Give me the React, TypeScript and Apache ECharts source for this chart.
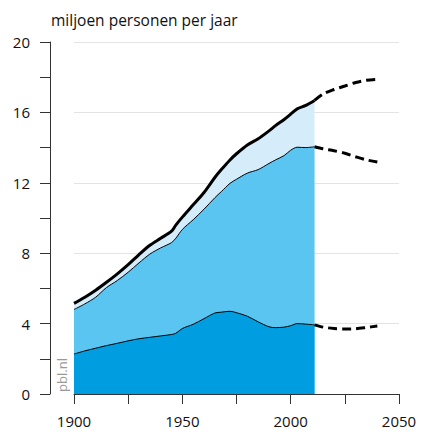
import React, { useEffect, useRef } from "react";
import * as echarts from "echarts";

const histYears = [1900, 1905, 1910, 1915, 1920, 1925, 1930, 1935, 1940, 1945, 1947, 1950, 1955, 1960, 1965, 1968, 1972, 1975, 1980, 1985, 1990, 1993, 1997, 2000, 2003, 2007, 2011];
const totalValues = [5.15, 5.5, 5.9, 6.35, 6.83, 7.35, 7.92, 8.45, 8.85, 9.25, 9.6, 10.05, 10.75, 11.45, 12.3, 12.75, 13.3, 13.65, 14.15, 14.5, 14.95, 15.25, 15.6, 15.9, 16.2, 16.4, 16.68];
const middleValues = [4.8, 5.12, 5.5, 6.05, 6.45, 6.92, 7.45, 7.95, 8.3, 8.6, 8.85, 9.35, 9.9, 10.5, 11.15, 11.5, 11.97, 12.2, 12.55, 12.75, 13.1, 13.3, 13.55, 13.85, 14.02, 14.0, 14.05];
const lowerValues = [2.27, 2.45, 2.6, 2.75, 2.88, 3.02, 3.14, 3.22, 3.3, 3.38, 3.45, 3.72, 3.96, 4.28, 4.6, 4.65, 4.7, 4.62, 4.42, 4.1, 3.82, 3.77, 3.8, 3.88, 4.0, 3.97, 3.93];

const projYears = [2011, 2015, 2020, 2025, 2030, 2035, 2040];
const projTotal = [16.68, 17.05, 17.3, 17.5, 17.7, 17.83, 17.88];
const projMiddle = [14.05, 13.93, 13.82, 13.68, 13.48, 13.3, 13.18];
const projLower = [3.93, 3.8, 3.72, 3.69, 3.71, 3.78, 3.86];

const xTicks = [1900, 1950, 2000, 2050];
const yTicks = [0, 4, 8, 12, 16, 20];

const FONT = "Open Sans";

const pairs = (xs: number[], ys: number[]) => xs.map((x, i) => [x, ys[i]]);

export default function App() {
  const ref = useRef<HTMLDivElement>(null);
  useEffect(() => {
    if (!ref.current) return;
    const chart = echarts.init(ref.current, undefined, { renderer: "svg" });
    const dashed = (data: number[][]) => ({
      type: "line",
      data,
      showSymbol: false,
      smooth: 0.3,
      lineStyle: { color: "#000", width: 3, type: [9, 5] },
      z: 5,
    });
    chart.setOption({
      animation: false,
      textStyle: { fontFamily: FONT },
      grid: { left: 74, right: 22, top: 42, bottom: 37 },
      graphic: [
        {
          type: "text",
          x: 51,
          y: 20,
          style: { text: "miljoen personen per jaar", fontSize: 15.5, fontFamily: FONT, fill: "#111", textVerticalAlign: "middle" },
        },
        {
          type: "text",
          x: 62,
          y: 375,
          rotation: Math.PI / 2,
          style: { text: "pbl.nl", fontSize: 13, fontFamily: FONT, fill: "#999", textAlign: "center", textVerticalAlign: "middle" },
          z: 10,
        },
      ],
      xAxis: {
        type: "value",
        min: xTicks[0],
        max: xTicks[xTicks.length - 1],
        interval: 50,
        axisLine: { show: true, lineStyle: { color: "#333", width: 1 } },
        axisTick: { show: true, length: 10, lineStyle: { color: "#333" } },
        minorTick: { show: true, splitNumber: 2, length: 10, lineStyle: { color: "#333" } },
        splitLine: { show: false },
        axisLabel: { margin: 19, fontSize: 15, color: "#111", fontFamily: FONT, formatter: (v: number) => String(v) },
      },
      yAxis: {
        type: "value",
        min: yTicks[0],
        max: yTicks[yTicks.length - 1],
        interval: 4,
        offset: 24,
        axisLine: { show: true, lineStyle: { color: "#333", width: 1 } },
        axisTick: { show: true, length: 10, lineStyle: { color: "#333" } },
        minorTick: { show: true, splitNumber: 2, length: 10, lineStyle: { color: "#333" } },
        splitLine: { show: true, lineStyle: { color: "#e3e3e3", width: 1 } },
        axisLabel: { margin: 20, fontSize: 15, color: "#111", fontFamily: FONT, formatter: (v: number) => String(v) },
      },
      series: [
        {
          type: "line",
          data: pairs(histYears, totalValues),
          showSymbol: false,
          smooth: 0.3,
          lineStyle: { color: "#000", width: 3 },
          areaStyle: { color: "#d5ecfa", opacity: 1 },
          z: 2,
        },
        {
          type: "line",
          data: pairs(histYears, middleValues),
          showSymbol: false,
          smooth: 0.3,
          lineStyle: { color: "#000", width: 1 },
          areaStyle: { color: "#5bc5f2", opacity: 1 },
          z: 3,
        },
        {
          type: "line",
          data: pairs(histYears, lowerValues),
          showSymbol: false,
          smooth: 0.3,
          lineStyle: { color: "#000", width: 1 },
          areaStyle: { color: "#009ee0", opacity: 1 },
          z: 4,
        },
        dashed(pairs(projYears, projTotal)),
        dashed(pairs(projYears, projMiddle)),
        dashed(pairs(projYears, projLower)),
      ],
    });
    return () => chart.dispose();
  }, []);
  return <div ref={ref} style={{ width: 421, height: 431, position: "absolute", left: 0, top: 0 }} />;
}
